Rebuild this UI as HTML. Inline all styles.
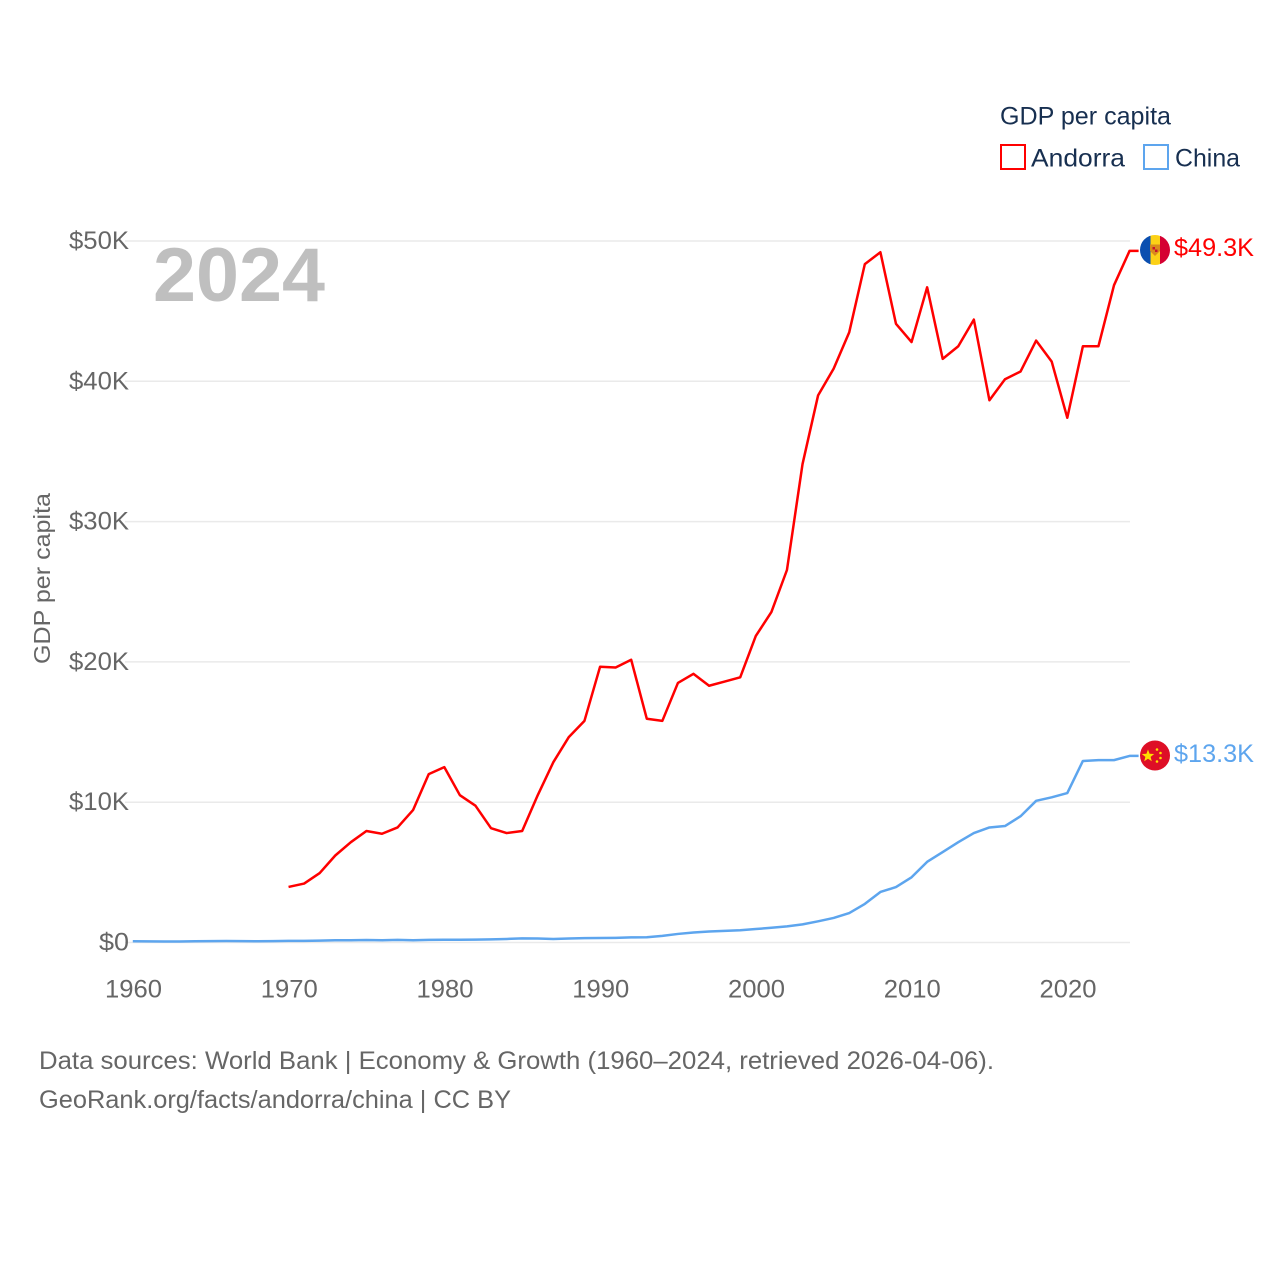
<!DOCTYPE html>
<html lang="en">
<head>
<meta charset="utf-8">
<title>GDP per capita: Andorra and China</title>
<style>
html,body{margin:0;padding:0;background:#fff;}
svg{display:block;font-family:"Liberation Sans",sans-serif;}
</style>
</head>
<body>
<svg id="chart" xmlns="http://www.w3.org/2000/svg" width="1280" height="1280" viewBox="0 0 1280 1280">
  <rect x="0" y="0" width="1280" height="1280" fill="#fff"/>
  <g id="grid"></g>
  <g id="yticks"></g>
  <g id="xticks"></g>
  <text x="153" y="301" font-size="76" font-weight="bold" fill="#bfbfbf" textLength="172" lengthAdjust="spacingAndGlyphs">2024</text>
  <text transform="translate(50,664) rotate(-90)" font-size="23.500" fill="#666" textLength="171" lengthAdjust="spacingAndGlyphs">GDP per capita</text>
  <g id="series"></g>

  <g>
    <clipPath id="clip-ad"><circle cx="1155" cy="250" r="15"/></clipPath>
    <g clip-path="url(#clip-ad)">
      <rect x="1140" y="235" width="10.500" height="30" fill="#0b4fb0"/>
      <rect x="1150.500" y="235" width="9.500" height="30" fill="#fcd116"/>
      <rect x="1160" y="235" width="10" height="30" fill="#d50032"/>
      <path d="M1150 244.500h10v6.500l-5 5-5-5z" fill="#d98a1c"/>
      <rect x="1152.500" y="247" width="2.500" height="2.500" fill="#c8102e"/>
      <rect x="1155" y="249.500" width="2.500" height="2.500" fill="#c8102e"/>
    </g>
  </g>
  <g>
    <circle cx="1155" cy="755.500" r="15" fill="#de0f26"/>
    <polygon points="1148,749.500 1149.600,753.800 1154.200,754 1150.600,756.900 1151.800,761.300 1148,758.800 1144.200,761.300 1145.400,756.900 1141.800,754 1146.400,753.800" fill="#ffde00"/>
    <circle cx="1157" cy="749.500" r="1.300" fill="#ffde00"/>
    <circle cx="1160.500" cy="753" r="1.300" fill="#ffde00"/>
    <circle cx="1160.500" cy="758" r="1.300" fill="#ffde00"/>
    <circle cx="1157" cy="761.500" r="1.300" fill="#ffde00"/>
  </g>
  <text x="1174" y="256" font-size="25" fill="#ff0000" textLength="80" lengthAdjust="spacingAndGlyphs">$49.3K</text>
  <text x="1174" y="762" font-size="25" fill="#5da5ee" textLength="80" lengthAdjust="spacingAndGlyphs">$13.3K</text>

  <g>
    <text x="1000" y="124.500" font-size="25" fill="#172f50" textLength="171" lengthAdjust="spacingAndGlyphs">GDP per capita</text>
    <g>
      <rect x="1001" y="145" width="24" height="24" fill="none" stroke="#ff0000" stroke-width="2"/>
      <text x="1031" y="166.500" font-size="25" fill="#172f50" textLength="94" lengthAdjust="spacingAndGlyphs">Andorra</text>
    </g>
    <g>
      <rect x="1144" y="145" width="24" height="24" fill="none" stroke="#5da5ee" stroke-width="2"/>
      <text x="1175" y="166.500" font-size="25" fill="#172f50" textLength="65" lengthAdjust="spacingAndGlyphs">China</text>
    </g>
  </g>

  <text x="39" y="1069" font-size="25" fill="#666" textLength="955" lengthAdjust="spacingAndGlyphs">Data sources: World Bank | Economy &amp; Growth (1960–2024, retrieved 2026-04-06).</text>
  <text x="39" y="1108" font-size="25" fill="#666" textLength="472" lengthAdjust="spacingAndGlyphs">GeoRank.org/facts/andorra/china | CC BY</text>
</svg>
<script>
var yTickValues = [0, 10, 20, 30, 40, 50];
var yTickLabels = ["$0", "$10K", "$20K", "$30K", "$40K", "$50K"];
var xTickValues = [1960, 1970, 1980, 1990, 2000, 2010, 2020];
var andorraStartYear = 1970;
var andorraValues = [3.96,4.2,4.95,6.2,7.15,7.95,7.75,8.2,9.45,12.0,12.5,10.5,9.75,8.15,7.8,7.95,10.5,12.85,14.65,15.8,19.65,19.6,20.15,15.95,15.8,18.5,19.15,18.3,18.6,18.9,21.85,23.55,26.55,34.1,39.0,40.9,43.5,48.35,49.2,44.1,42.8,46.7,41.6,42.5,44.4,38.65,40.15,40.7,42.9,41.4,37.4,42.5,42.5,46.85,49.3];
var chinaStartYear = 1960;
var chinaValues = [0.09,0.076,0.07,0.075,0.085,0.098,0.104,0.097,0.091,0.1,0.113,0.119,0.132,0.157,0.16,0.178,0.165,0.185,0.156,0.183,0.195,0.197,0.203,0.225,0.25,0.294,0.282,0.252,0.283,0.31,0.318,0.333,0.366,0.377,0.473,0.61,0.71,0.78,0.83,0.87,0.96,1.05,1.15,1.29,1.51,1.75,2.1,2.75,3.6,3.95,4.65,5.75,6.45,7.15,7.8,8.2,8.3,9.0,10.1,10.35,10.65,12.94,13.0,13.0,13.3];

var NS = 'http://www.w3.org/2000/svg';
function xScale(year) { return 132.8 + (year - 1960) * (1129.6 - 132.8) / 64; }
function yScale(v) { return 942.5 - v * (942.5 - 241) / 50; }
function make(tag, attrs, parent) {
  var el = document.createElementNS(NS, tag);
  for (var k in attrs) { el.setAttribute(k, attrs[k]); }
  parent.appendChild(el);
  return el;
}
function seriesPath(values, startYear) {
  var d = '';
  for (var i = 0; i < values.length; i++) {
    d += (i ? 'L' : 'M') + xScale(startYear + i).toFixed(2) + ' ' + yScale(values[i]).toFixed(2);
  }
  d += 'L' + (xScale(startYear + values.length - 1) + 9).toFixed(2) + ' ' + yScale(values[values.length - 1]).toFixed(2);
  return d;
}

var gridG = document.getElementById('grid');
var yG = document.getElementById('yticks');
var xG = document.getElementById('xticks');
var seriesG = document.getElementById('series');

yTickValues.forEach(function (v, i) {
  var line = make('line', { x1: 125, x2: 1130, y1: yScale(v), y2: yScale(v), stroke: '#eaeaea', 'stroke-width': 1.5 }, gridG);
  
  
  var wide = yTickLabels[i].length * 15;
  var t = make('text', { x: 129, y: yScale(v) + 8, 'text-anchor': 'end', 'font-size': 25, fill: '#666', textLength: wide, lengthAdjust: 'spacingAndGlyphs' }, yG);
  
  
  t.textContent = yTickLabels[i];
});

xTickValues.forEach(function (year) {
  var t = make('text', { x: xScale(year) + 0.7, y: 997.5, 'text-anchor': 'middle', 'font-size': 25, fill: '#666', textLength: 57, lengthAdjust: 'spacingAndGlyphs' }, xG);
  
  
  t.textContent = year;
});

var chinaLine = make('path', { d: seriesPath(chinaValues, chinaStartYear), fill: 'none', stroke: '#5da5ee', 'stroke-width': 2.5, 'stroke-linejoin': 'round' }, seriesG);



var andorraLine = make('path', { d: seriesPath(andorraValues, andorraStartYear), fill: 'none', stroke: '#ff0000', 'stroke-width': 2.5, 'stroke-linejoin': 'round' }, seriesG);


</script>
</body>
</html>
